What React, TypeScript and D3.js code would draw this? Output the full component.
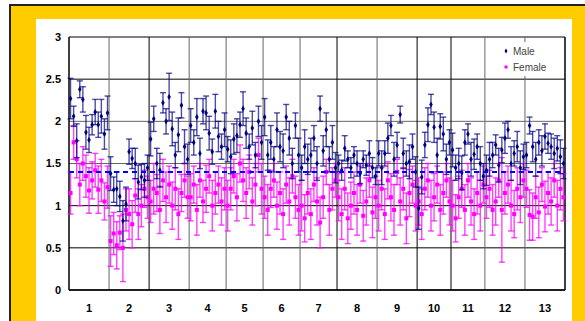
import * as d3 from 'd3';
import React from 'react';

const categories = ['1', '2', '3', '4', '5', '6', '7', '8', '9', '10', '11', '12', '13'];

const maleValues: number[][] = [
  [2.27, 2.06, 1.77, 2.38, 2.26, 1.87, 1.78, 1.96, 2.11, 1.96, 2.06, 1.85, 2.1],
  [1.38, 1.19, 1.2, 1.11, 0.82, 1.02, 1.64, 1.56, 1.5, 1.28, 1.34, 1.3, 1.45],
  [1.79, 2.03, 1.5, 1.42, 2.22, 2.0, 2.29, 1.91, 1.6, 1.84, 2.19, 1.7, 1.55],
  [1.95, 1.75, 2.05, 1.62, 2.12, 2.1, 1.86, 1.64, 2.12, 1.82, 1.7, 1.9],
  [1.67, 1.58, 1.79, 1.83, 1.96, 2.15, 1.86, 1.7, 1.92, 1.6, 2.0, 1.75],
  [2.05, 1.6, 1.75, 1.55, 1.9, 1.7, 1.65, 2.05, 1.8, 1.5, 1.95, 1.6],
  [1.45, 1.7, 1.55, 1.6, 1.8, 1.5, 2.15, 1.65, 1.9, 1.55, 1.75, 1.45],
  [1.5, 1.42, 1.68, 1.55, 1.45, 1.6, 1.5, 1.38, 1.55, 1.48, 1.62, 1.45, 1.35],
  [1.62, 1.45, 1.62, 1.8, 1.95, 1.55, 1.72, 2.08, 1.62, 1.5, 1.52, 1.7, 1.4],
  [0.97, 1.34, 1.72, 1.96, 2.2, 1.93, 1.6, 1.94, 1.85, 1.55, 1.75],
  [1.66, 1.45, 1.5, 1.39, 1.75, 1.85, 1.55, 1.61, 1.7, 1.5, 1.35],
  [1.42, 1.55, 1.6, 1.72, 1.48, 1.66, 1.8, 1.9, 1.5, 1.62, 1.7, 1.45, 1.58],
  [1.6, 1.95, 1.7, 1.55, 1.75, 1.65, 1.82, 1.74, 1.7, 1.62, 1.68, 1.58, 1.5],
];

const maleErrors: number[][] = [
  [0.24, 0.12, 0.2, 0.1, 0.15, 0.2, 0.15, 0.12, 0.15, 0.15, 0.2, 0.18, 0.2],
  [0.2, 0.15, 0.2, 0.18, 0.24, 0.2, 0.15, 0.12, 0.18, 0.2, 0.15, 0.2, 0.15],
  [0.2, 0.15, 0.18, 0.2, 0.12, 0.15, 0.28, 0.2, 0.15, 0.2, 0.15, 0.2, 0.18],
  [0.2, 0.15, 0.22, 0.18, 0.15, 0.2, 0.2, 0.15, 0.2, 0.18, 0.15, 0.2],
  [0.15, 0.2, 0.18, 0.2, 0.15, 0.2, 0.18, 0.15, 0.2, 0.15, 0.18, 0.2],
  [0.22, 0.18, 0.2, 0.15, 0.2, 0.18, 0.2, 0.15, 0.2, 0.18, 0.15, 0.2],
  [0.15, 0.2, 0.18, 0.2, 0.15, 0.2, 0.15, 0.18, 0.2, 0.15, 0.2, 0.18],
  [0.1, 0.12, 0.15, 0.1, 0.12, 0.1, 0.15, 0.12, 0.1, 0.12, 0.15, 0.12, 0.1],
  [0.15, 0.2, 0.15, 0.18, 0.12, 0.2, 0.15, 0.1, 0.18, 0.15, 0.2, 0.15, 0.18],
  [0.25, 0.2, 0.15, 0.2, 0.12, 0.18, 0.2, 0.15, 0.2, 0.18, 0.15],
  [0.2, 0.15, 0.18, 0.2, 0.15, 0.12, 0.2, 0.18, 0.15, 0.2, 0.15],
  [0.18, 0.2, 0.15, 0.12, 0.2, 0.15, 0.18, 0.1, 0.2, 0.15, 0.18, 0.2, 0.15],
  [0.15, 0.1, 0.18, 0.2, 0.15, 0.18, 0.15, 0.12, 0.15, 0.18, 0.15, 0.2, 0.18],
];

const femaleValues: number[][] = [
  [1.15, 1.75, 1.55, 1.25, 1.5, 1.35, 1.18, 1.3, 1.42, 1.19, 1.3, 1.05, 1.22],
  [0.58, 0.67, 0.53, 0.68, 0.5, 0.95, 0.9, 0.78, 1.12, 0.9, 1.0, 1.2, 1.1],
  [1.05, 1.2, 1.15, 0.95, 1.3, 1.1, 1.25, 1.0, 1.2, 0.9, 1.15, 1.3, 1.1],
  [1.1, 1.25, 0.95, 1.3, 1.05, 1.2, 1.35, 1.0, 1.15, 1.25, 1.05, 1.2],
  [1.0, 1.2, 1.35, 1.1, 1.5, 1.3, 1.15, 1.4, 1.05, 1.25, 1.6, 1.2],
  [1.1, 0.95, 1.2, 1.3, 1.0, 1.15, 0.9, 1.25, 1.05, 1.35, 1.1, 0.95],
  [1.0, 0.85, 1.15, 0.9, 1.25, 1.05, 0.8, 1.1, 1.4, 0.95, 1.2, 1.3],
  [1.1, 0.9, 1.2, 0.85, 1.0, 1.15, 0.95, 1.25, 0.88, 1.05, 1.3, 0.92, 1.1],
  [1.0, 1.2, 0.9, 1.3, 1.1, 0.95, 1.4, 1.05, 1.2, 0.85, 1.15, 1.25, 1.0],
  [1.05, 0.9, 1.2, 1.3, 1.0, 1.1, 1.25, 0.95, 1.15, 1.3, 1.05],
  [1.0, 0.85, 1.1, 1.2, 0.95, 1.3, 1.05, 0.9, 1.15, 1.0, 1.25],
  [1.1, 1.2, 0.95, 1.05, 1.3, 0.95, 1.15, 1.25, 1.0, 0.9, 1.2, 1.1, 1.3],
  [1.2, 0.89, 0.87, 1.1, 0.92, 1.25, 0.99, 1.15, 1.05, 1.3, 1.0, 1.2, 1.1],
];

const femaleErrors: number[][] = [
  [0.25, 0.2, 0.22, 0.25, 0.2, 0.25, 0.27, 0.22, 0.2, 0.28, 0.25, 0.22, 0.25],
  [0.3, 0.25, 0.28, 0.2, 0.4, 0.25, 0.3, 0.28, 0.2, 0.3, 0.25, 0.22, 0.25],
  [0.25, 0.3, 0.22, 0.28, 0.25, 0.3, 0.22, 0.28, 0.25, 0.3, 0.22, 0.2, 0.25],
  [0.28, 0.22, 0.3, 0.2, 0.25, 0.28, 0.2, 0.3, 0.25, 0.22, 0.28, 0.25],
  [0.3, 0.25, 0.2, 0.28, 0.22, 0.25, 0.3, 0.2, 0.28, 0.25, 0.2, 0.3],
  [0.25, 0.3, 0.22, 0.2, 0.28, 0.25, 0.3, 0.22, 0.28, 0.2, 0.25, 0.3],
  [0.3, 0.28, 0.25, 0.3, 0.2, 0.28, 0.3, 0.25, 0.15, 0.3, 0.25, 0.2],
  [0.28, 0.3, 0.25, 0.3, 0.28, 0.25, 0.3, 0.22, 0.3, 0.28, 0.2, 0.3, 0.25],
  [0.3, 0.25, 0.3, 0.22, 0.28, 0.3, 0.15, 0.28, 0.25, 0.3, 0.28, 0.22, 0.3],
  [0.28, 0.3, 0.25, 0.2, 0.3, 0.28, 0.22, 0.3, 0.25, 0.2, 0.28],
  [0.3, 0.28, 0.25, 0.22, 0.3, 0.2, 0.28, 0.3, 0.25, 0.3, 0.22],
  [0.25, 0.22, 0.3, 0.28, 0.2, 0.62, 0.25, 0.22, 0.3, 0.28, 0.25, 0.3, 0.2],
  [0.22, 0.3, 0.28, 0.25, 0.3, 0.2, 0.3, 0.25, 0.28, 0.2, 0.3, 0.25, 0.28],
];

const maleMean = 1.4;
const yTicks = [0, 0.5, 1, 1.5, 2, 2.5, 3];

const W = 585;
const H = 321;
const plot = { left: 69, top: 37, right: 565, bottom: 290 };

type Pt = { x: number; v: number; e: number };

function flatten(values: number[][], errors: number[][]): Pt[] {
  const out: Pt[] = [];
  let idx = 0;
  values.forEach((grp, g) => {
    grp.forEach((v, i) => {
      idx += 1;
      out.push({ x: idx, v, e: errors[g][i] });
    });
  });
  return out;
}

const App = () => {
  const sizes = maleValues.map((g) => g.length);
  const total = d3.sum(sizes);
  const bounds = [0, ...d3.cumsum(sizes)].map((b) => b + 0.5);
  const centers = bounds.slice(1).map((b, i) => (b + bounds[i]) / 2);

  const x = d3.scaleLinear().domain([0.5, total + 0.5]).range([plot.left, plot.right]);
  const y = d3.scaleLinear().domain([0, 3]).range([plot.bottom, plot.top]);

  const male = flatten(maleValues, maleErrors);
  const female = flatten(femaleValues, femaleErrors);

  const grayV = new Set([1, 3, 4, 5, 6, 8, 11, 12]);
  const grayH = new Set([1.5, 2]);
  const diamond = d3.symbol().type(d3.symbolDiamond).size(11)() as string;
  const legendDiamond = d3.symbol().type(d3.symbolDiamond).size(7)() as string;
  const cap = 3;

  const errorBars = (pts: Pt[], color: string, op: number) =>
    pts.map((p, i) => {
      const cx = x(p.x);
      const y1 = y(p.v + p.e);
      const y2 = y(p.v - p.e);
      return (
        <g key={i} stroke={color} strokeWidth={1.4} strokeOpacity={op}>
          <line x1={cx} x2={cx} y1={y1} y2={y2} />
          <line x1={cx - cap} x2={cx + cap} y1={y1} y2={y1} />
          <line x1={cx - cap} x2={cx + cap} y1={y2} y2={y2} />
        </g>
      );
    });

  return (
    <div style={{ position: 'absolute', left: 0, top: 0 }}>
      <svg width={W} height={H} style={{ display: 'block' }} fontFamily="Liberation Sans, Arial, sans-serif">
        <rect x={0} y={0} width={W} height={H} fill="#fff" />
        <rect x={10} y={5} width={W} height={H} fill="#FFCC00" stroke="#222" strokeWidth={2} />
        <rect x={36} y={19} width={536} height={H} fill="#fff" />

        {yTicks.map((t) => (
          <line
            key={'h' + t}
            x1={plot.left}
            x2={plot.right}
            y1={y(t)}
            y2={y(t)}
            stroke={grayH.has(t) ? '#666' : '#000'}
            strokeWidth={1}
          />
        ))}
        {bounds.map((b, i) => (
          <line
            key={'v' + i}
            x1={x(b)}
            x2={x(b)}
            y1={plot.top}
            y2={plot.bottom}
            stroke={grayV.has(i) ? '#666' : '#000'}
            strokeWidth={i === 0 || i === bounds.length - 1 ? 1.5 : 1}
          />
        ))}
        <line x1={plot.left} x2={plot.right} y1={plot.bottom} y2={plot.bottom} stroke="#000" strokeWidth={1.5} />

        {errorBars(female, '#FF00FF', 0.75)}
        {female.map((p, i) => (
          <rect key={'f' + i} x={x(p.x) - 2} y={y(p.v) - 2} width={4} height={4} fill="#FF00FF" />
        ))}
        {errorBars(male, '#000080', 0.7)}
        {male.map((p, i) => (
          <path key={'m' + i} d={diamond} transform={`translate(${x(p.x)},${y(p.v)})`} fill="#000080" />
        ))}

        <line
          x1={plot.left}
          x2={plot.right}
          y1={y(maleMean)}
          y2={y(maleMean)}
          stroke="#0000FF"
          strokeWidth={2}
          strokeDasharray="5,4"
        />

        {yTicks.map((t) => (
          <text key={'yt' + t} x={61} y={y(t)} dy="0.35em" textAnchor="end" fontSize={11} fontWeight="bold" fill="#000">
            {t}
          </text>
        ))}
        {categories.map((c, i) => (
          <text key={'xt' + c} x={x(centers[i])} y={312} textAnchor="middle" fontSize={11} fontWeight="bold" fill="#000">
            {c}
          </text>
        ))}

        <rect x={494} y={42} width={64} height={34} fill="#fff" />
        <path d={legendDiamond} transform="translate(506,51)" fill="#000080" />
        <text x={513} y={51} dy="0.35em" fontSize={10} fill="#444">
          Male
        </text>
        <rect x={504.5} y={65.5} width={3} height={3} fill="#FF00FF" />
        <text x={513} y={67} dy="0.35em" fontSize={10} fill="#444">
          Female
        </text>
      </svg>
    </div>
  );
};

export default App;
